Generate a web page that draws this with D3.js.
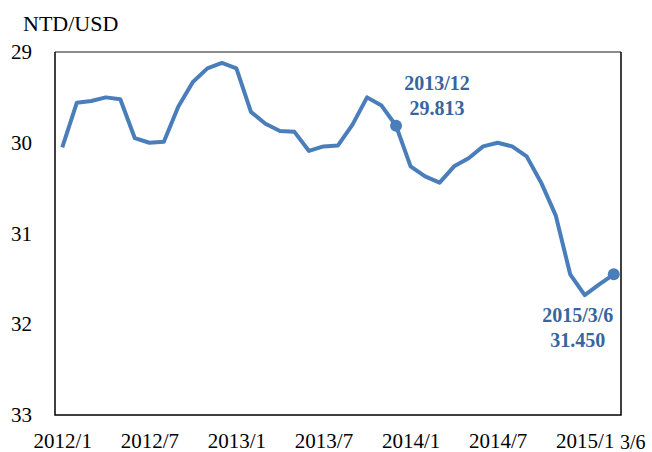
<!DOCTYPE html>
<html><head><meta charset="utf-8">
<script src="https://cdn.jsdelivr.net/npm/d3@7"></script>
<style>body{margin:0;background:#fff}svg{display:block}text{font-family:'Liberation Serif','Times New Roman',serif}</style>
</head><body>
<script>
const months = ["2012/1","2012/2","2012/3","2012/4","2012/5","2012/6","2012/7","2012/8","2012/9","2012/10","2012/11","2012/12",
"2013/1","2013/2","2013/3","2013/4","2013/5","2013/6","2013/7","2013/8","2013/9","2013/10","2013/11","2013/12",
"2014/1","2014/2","2014/3","2014/4","2014/5","2014/6","2014/7","2014/8","2014/9","2014/10","2014/11","2014/12",
"2015/1","2015/2","2015/3/6"];
const rates = [30.05,29.56,29.54,29.50,29.52,29.95,30.00,29.99,29.60,29.33,29.18,29.12,
29.18,29.66,29.79,29.87,29.88,30.09,30.04,30.03,29.80,29.50,29.59,29.813,
30.26,30.37,30.44,30.26,30.17,30.04,30.00,30.04,30.15,30.44,30.80,31.45,
31.68,31.56,31.450];
const xTickLabels = ["2012/1","2012/7","2013/1","2013/7","2014/1","2014/7","2015/1"];
const yTicks = [29,30,31,32,33];
const annotations = [{month:"2013/12", label:["2013/12","29.813"]},{month:"2015/3/6", label:["2015/3/6","31.450"]}];

const W=652,H=452;
const L=55,R=621,T=52,B=415;
const svg=d3.select("body").append("svg").attr("width",W).attr("height",H);
const x=d3.scaleLinear().domain([-0.5,months.length-0.5]).range([L,R]);
const y=d3.scaleLinear().domain([29,33]).range([T,B]);
const font="'Liberation Serif','Times New Roman',serif";
const blue="#4a7ebb", dark="#37659f";

// top gridline
svg.append("line").attr("x1",L).attr("x2",R).attr("y1",y(29)).attr("y2",y(29)).attr("stroke","#8c8c8c").attr("stroke-width",2);
// frame
svg.append("path").attr("d",`M${L},${T}V${B}H${R}V${T}`).attr("fill","none").attr("stroke","#000").attr("stroke-width",1.5);

// y axis labels
const yAxis=d3.axisLeft(y).tickValues(yTicks).tickSize(0).tickPadding(23).tickFormat(d3.format("d"));
const ga=svg.append("g").attr("transform",`translate(${L},0)`).call(yAxis);
ga.attr("font-family",null);
ga.select(".domain").remove();
ga.selectAll("text").style("font-family",font).attr("font-size",21).attr("fill","#000");

// x axis labels
const xAxis=d3.axisBottom(x).tickValues(xTickLabels.map(m=>months.indexOf(m))).tickSize(0).tickPadding(0)
  .tickFormat(i=>months[i]);
const gx=svg.append("g").attr("transform",`translate(0,${B})`).call(xAxis);
gx.attr("font-family",null);
gx.select(".domain").remove();
gx.selectAll("text").style("font-family",font).attr("font-size",21).attr("fill","#000").attr("dy",null).attr("y",33);
svg.append("text").attr("x",x(months.length-1)+19).attr("y",449).attr("text-anchor","middle")
  .style("font-family",font).attr("font-size",20).text("3/6");

// unit
svg.append("text").attr("x",23).attr("y",31).style("font-family",font).attr("font-size",22).text("NTD/USD");

// line
const line=d3.line().x((d,i)=>x(i)).y(d=>y(d));
svg.append("path").datum(rates).attr("d",line).attr("fill","none").attr("stroke",blue).attr("stroke-width",4).attr("stroke-linejoin","round");

// annotations
const offsets=[[41,-36],[-36,48]];
annotations.forEach((a,k)=>{
  const i=months.indexOf(a.month);
  const cx=x(i), cy=y(rates[i]);
  svg.append("circle").attr("cx",cx).attr("cy",cy).attr("r",6).attr("fill",blue);
  const t=svg.append("text").attr("x",cx+offsets[k][0]).attr("y",cy+offsets[k][1]).attr("text-anchor","middle")
    .style("font-family",font).attr("font-size",20).attr("font-weight","bold").attr("fill",dark);
  a.label.forEach((s,j)=>t.append("tspan").attr("x",cx+offsets[k][0]).attr("dy",j?25:0).text(s));
});
</script>
</body></html>
